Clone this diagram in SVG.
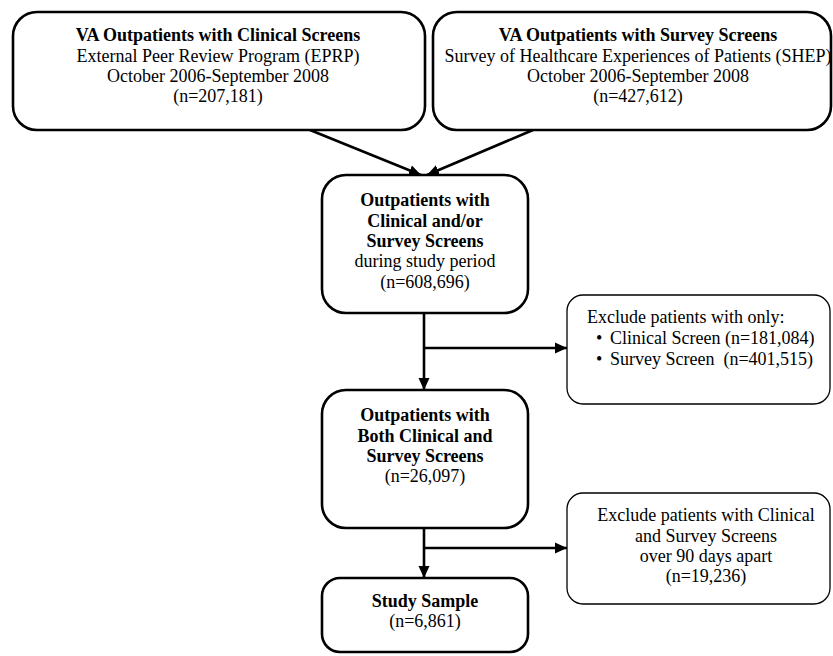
<svg xmlns="http://www.w3.org/2000/svg" width="833" height="656" viewBox="0 0 833 656">
<defs>
<marker id="ah" markerUnits="userSpaceOnUse" markerWidth="14" markerHeight="14" viewBox="0 0 14 14" refX="12" refY="7" orient="auto">
<path d="M0,1.5 L12,7 L0,12.5 Z" fill="#000"/>
</marker>
<style>
.main{fill:#fff;stroke:#000;stroke-width:2.6}
.ex{fill:#fff;stroke:#000;stroke-width:1.3}
text{font-family:"Liberation Serif","Times New Roman",serif;font-size:18px;fill:#000}
.c{text-anchor:middle}
.b{font-weight:bold}
.conn{fill:none;stroke:#000;stroke-width:2.6}
</style>
</defs>
<rect width="833" height="656" fill="#fff"/>
<g id="connectors">
<line class="conn" x1="310" y1="130" x2="421" y2="175" marker-end="url(#ah)"/>
<line class="conn" x1="533" y1="130" x2="427" y2="175" marker-end="url(#ah)"/>
<line class="conn" x1="424" y1="313" x2="424" y2="390" marker-end="url(#ah)"/>
<line class="conn" x1="424" y1="348" x2="567" y2="348" marker-end="url(#ah)"/>
<line class="conn" x1="424" y1="528" x2="424" y2="578" marker-end="url(#ah)"/>
<line class="conn" x1="424" y1="548" x2="567" y2="548" marker-end="url(#ah)"/>
</g>
<g id="epRP">
<rect class="main" x="13" y="12" width="412" height="118" rx="24"/>
<text class="c b" x="218" y="41">VA Outpatients with Clinical Screens</text>
<text class="c" x="218" y="62">External Peer Review Program (EPRP)</text>
<text class="c" x="218" y="82">October 2006-September 2008</text>
<text class="c" x="218" y="102">(n=207,181)</text>
</g>
<g id="shep">
<rect class="main" x="433" y="12" width="398" height="118" rx="24"/>
<text class="c b" x="638" y="41">VA Outpatients with Survey Screens</text>
<text class="c" x="638" y="62">Survey of Healthcare Experiences of Patients (SHEP)</text>
<text class="c" x="638" y="82">October 2006-September 2008</text>
<text class="c" x="638" y="102">(n=427,612)</text>
</g>
<g id="combined">
<rect class="main" x="322" y="175" width="206" height="138" rx="24"/>
<text class="c b" x="425" y="206">Outpatients with</text>
<text class="c b" x="425" y="227">Clinical and/or</text>
<text class="c b" x="425" y="247">Survey Screens</text>
<text class="c" x="425" y="267">during study period</text>
<text class="c" x="425" y="288">(n=608,696)</text>
</g>
<g id="exclude1">
<rect class="ex" x="567" y="295" width="263" height="109" rx="16"/>
<text x="587" y="323">Exclude patients with only:</text>
<text x="596" y="344">•</text>
<text x="610" y="344">Clinical Screen (n=181,084)</text>
<text x="596" y="365">•</text>
<text x="610" y="365" xml:space="preserve">Survey Screen  (n=401,515)</text>
</g>
<g id="both">
<rect class="main" x="322" y="390" width="206" height="138" rx="24"/>
<text class="c b" x="425" y="421">Outpatients with</text>
<text class="c b" x="425" y="442">Both Clinical and</text>
<text class="c b" x="425" y="462">Survey Screens</text>
<text class="c" x="425" y="482">(n=26,097)</text>
</g>
<g id="exclude2">
<rect class="ex" x="567" y="493" width="263" height="111" rx="16"/>
<text class="c" x="706" y="521">Exclude patients with Clinical</text>
<text class="c" x="706" y="542">and Survey Screens</text>
<text class="c" x="706" y="562">over 90 days apart</text>
<text class="c" x="706" y="582">(n=19,236)</text>
</g>
<g id="sample">
<rect class="main" x="322" y="578" width="206" height="74" rx="18"/>
<text class="c b" x="425" y="607">Study Sample</text>
<text class="c" x="425" y="627">(n=6,861)</text>
</g>
</svg>
